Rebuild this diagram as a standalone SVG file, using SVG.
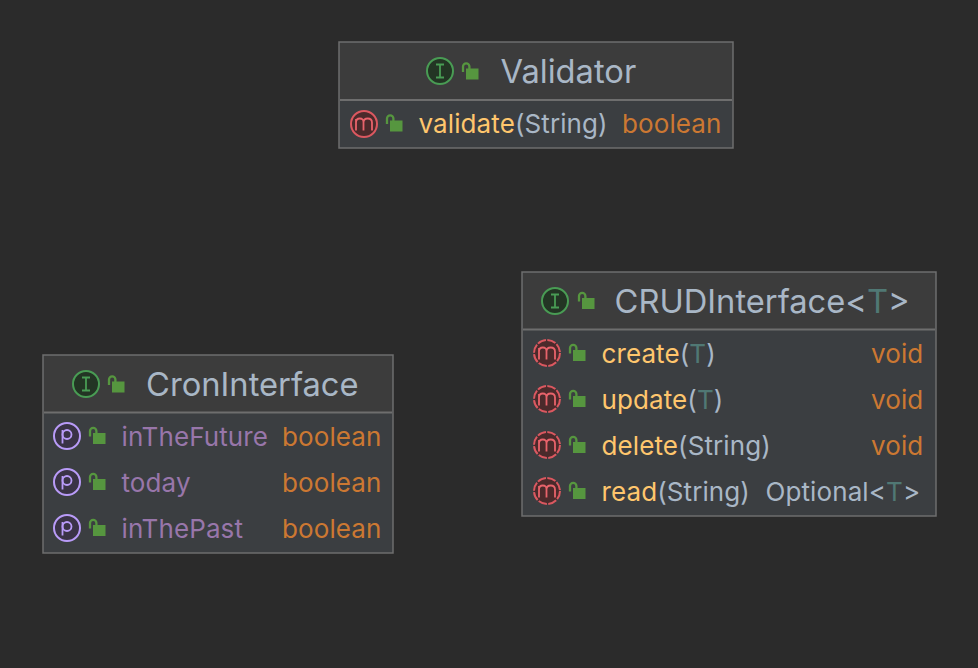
<svg xmlns="http://www.w3.org/2000/svg" width="978" height="668" viewBox="0 0 978 668">
<style>
text{font-family:Inter,"Noto Sans",sans-serif;font-size:26px;letter-spacing:.1px}
.title{font-size:32.700px;fill:#a9b7c6;letter-spacing:0}
.box{fill:#3b3e41;stroke:#6e6e6e;stroke-width:1.500}
.head{fill:#3c3c3c}
.sep{stroke:#6e6e6e;stroke-width:2}
.fn{fill:#ffc66d}.pl{fill:#a9b7c6}.ty{fill:#cc7832}.tv{fill:#507874}.pr{fill:#9876aa}
</style>
<defs>
<g id="lock"><rect x="-4" y="-3.500" width="12.500" height="11" fill="#56963f"/><path d="M-7 0V-5.500a3.200 3.200 0 0 1 6.400 0V-3" fill="none" stroke="#56963f" stroke-width="2.300"/></g>
<g id="iI"><circle r="13" fill="#233524" stroke="#499c54" stroke-width="2"/><path d="M-4-6.500H4M-4 6.500H4M0-6.500V6.500" stroke="#499c54" stroke-width="1.800" fill="none"/></g>
<path id="mg" d="M-8 6.500V-5M-8-1.500Q-8-5.500-4.200-5.500T-.5-1.500V6.500M-.5-1.500Q-.5-5.500 3.700-5.500T8-1.500V6.500" stroke="#e8636b" stroke-width="1.800" fill="none"/>
<g id="im"><circle r="13" fill="#4b2a2b" stroke="#db5860" stroke-width="2"/><use href="#mg"/></g>
<g id="imd"><circle r="13" fill="#4b2a2b" stroke="#db5860" stroke-width="2" stroke-dasharray="8.800 1.400"/><use href="#mg"/></g>
<g id="ip"><circle r="13" fill="#3a3346" stroke="#b99bf8" stroke-width="2"/><path d="M-4.500-6V7.500" stroke="#b99bf8" stroke-width="1.800" fill="none"/><circle cy="-1.500" r="4.500" fill="none" stroke="#b99bf8" stroke-width="1.800"/></g>
</defs>
<rect width="978" height="668" fill="#2b2b2b"/>
<g id="connectors"/>
<g id="validator">
<rect class="box" x="339" y="42" width="394" height="106"/>
<rect class="head" x="340" y="43" width="392" height="57"/>
<path class="sep" d="M340 100H732"/>
<use href="#iI" x="440" y="71"/><use href="#lock" x="470" y="72"/>
<text class="title" x="500.500" y="83">Validator</text>
<use href="#im" x="364" y="124"/><use href="#lock" x="394" y="124"/>
<text x="418.500" y="133"><tspan class="fn">validate</tspan><tspan class="pl">(String)</tspan></text>
<text class="ty" x="622" y="133">boolean</text>
</g>
<g id="crud">
<rect class="box" x="522" y="272" width="414" height="244"/>
<rect class="head" x="523" y="273" width="412" height="57"/>
<path class="sep" d="M523 329.500H935"/>
<use href="#iI" x="555" y="301"/><use href="#lock" x="586" y="301.500"/>
<text class="title" x="614.500" y="313"><tspan class="pl">CRUDInterface&lt;</tspan><tspan class="tv">T</tspan><tspan class="pl">&gt;</tspan></text>
<use href="#imd" x="547" y="353"/><use href="#lock" x="577" y="353.500"/>
<text x="601.500" y="363"><tspan class="fn">create</tspan><tspan class="pl">(</tspan><tspan class="tv">T</tspan><tspan class="pl">)</tspan></text>
<text class="ty" x="871" y="363">void</text>
<use href="#imd" x="547" y="399"/><use href="#lock" x="577" y="399.500"/>
<text x="601.500" y="409"><tspan class="fn">update</tspan><tspan class="pl">(</tspan><tspan class="tv">T</tspan><tspan class="pl">)</tspan></text>
<text class="ty" x="871" y="409">void</text>
<use href="#imd" x="547" y="445"/><use href="#lock" x="577" y="445.500"/>
<text x="601.500" y="455"><tspan class="fn">delete</tspan><tspan class="pl">(String)</tspan></text>
<text class="ty" x="871" y="455">void</text>
<use href="#imd" x="547" y="491"/><use href="#lock" x="577" y="491.500"/>
<text x="601.500" y="501"><tspan class="fn">read</tspan><tspan class="pl">(String)</tspan></text>
<text x="765.500" y="501"><tspan class="pl">Optional&lt;</tspan><tspan class="tv">T</tspan><tspan class="pl">&gt;</tspan></text>
</g>
<g id="cron">
<rect class="box" x="43" y="355" width="350" height="198"/>
<rect class="head" x="44" y="356" width="348" height="57"/>
<path class="sep" d="M44 412.500H392"/>
<use href="#iI" x="86" y="384"/><use href="#lock" x="116" y="385"/>
<text class="title" x="146" y="396">CronInterface</text>
<use href="#ip" x="67" y="436"/><use href="#lock" x="97" y="436.500"/>
<text class="pr" x="121.500" y="446">inTheFuture</text><text class="ty" x="282" y="446">boolean</text>
<use href="#ip" x="67" y="482"/><use href="#lock" x="97" y="482.500"/>
<text class="pr" x="121.500" y="492">today</text><text class="ty" x="282" y="492">boolean</text>
<use href="#ip" x="67" y="528"/><use href="#lock" x="97" y="528.500"/>
<text class="pr" x="121.500" y="538">inThePast</text><text class="ty" x="282" y="538">boolean</text>
</g>
</svg>
